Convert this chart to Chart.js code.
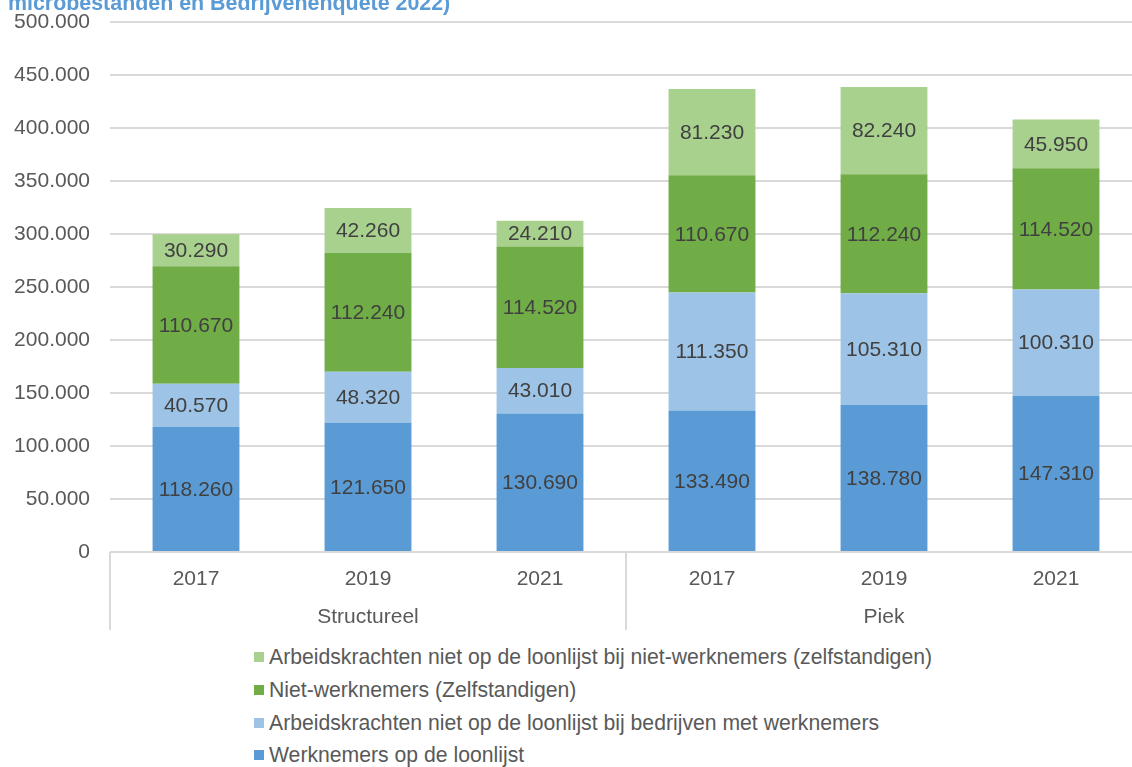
<!DOCTYPE html>
<html>
<head>
<meta charset="utf-8">
<script src="https://cdn.jsdelivr.net/npm/chart.js@4/dist/chart.umd.min.js"></script>
<style>
  html, body { margin: 0; padding: 0; background: #fff; overflow: hidden; width: 1132px; height: 767px; }
  body { position: relative; font-family: 'Liberation Sans', Arial, sans-serif; }
  #title { position: absolute; left: 8px; top: -9px; font: bold 21.4px 'Liberation Sans', Arial, sans-serif; color: #5b9bd5; white-space: nowrap; z-index: 2; }
  #wrap { position: absolute; left: 0; top: 0; width: 1145px; height: 640px; }
  #legend { position: absolute; left: 254px; top: 641px; }
  .item { display: flex; align-items: center; height: 32.7px; font-size: 21.2px; color: #595959; white-space: nowrap; }
  .sw { width: 10px; height: 10px; margin-right: 5px; }
</style>
</head>
<body>
<div id="title">microbestanden en Bedrijvenenquete 2022)</div>
<div id="wrap"><canvas id="chart"></canvas></div>
<div id="legend"></div>
<script>
'use strict';

const years = ['2017', '2019', '2021', '2017', '2019', '2021'];
const groups = ['Structureel', 'Piek'];
const werknemers = [118260, 121650, 130690, 133490, 138780, 147310];
const akBedrijven = [40570, 48320, 43010, 111350, 105310, 100310];
const nietWerknemers = [110670, 112240, 114520, 110670, 112240, 114520];
const akZelfstandigen = [30290, 42260, 24210, 81230, 82240, 45950];
const yTicks = [0, 50000, 100000, 150000, 200000, 250000, 300000, 350000, 400000, 450000, 500000];

const FONT = "'Liberation Sans', Arial, sans-serif";
const LINE = '#d9d9d9';
const fmt = (v) => v.toLocaleString('nl-NL');

const datasets = [
  { label: 'Werknemers op de loonlijst', data: werknemers, backgroundColor: '#5b9bd5' },
  { label: 'Arbeidskrachten niet op de loonlijst bij bedrijven met werknemers', data: akBedrijven, backgroundColor: '#9dc3e6' },
  { label: 'Niet-werknemers (Zelfstandigen)', data: nietWerknemers, backgroundColor: '#70ad47' },
  { label: 'Arbeidskrachten niet op de loonlijst bij niet-werknemers (zelfstandigen)', data: akZelfstandigen, backgroundColor: '#a9d18e' },
];

// value labels in the middle of every segment
const valueLabels = {
  id: 'valueLabels',
  afterDatasetsDraw(chart) {
    const ctx = chart.ctx;
    ctx.save();
    ctx.font = '21px ' + FONT;
    ctx.fillStyle = '#404040';
    ctx.textAlign = 'center';
    ctx.textBaseline = 'middle';
    chart.data.datasets.forEach((ds, i) => {
      chart.getDatasetMeta(i).data.forEach((bar, j) => {
        const p = bar.getCenterPoint();
        ctx.fillText(fmt(ds.data[j]), p.x, p.y + 1);
      });
    });
    ctx.restore();
  },
};

// second category level + frame lines
const groupAxis = {
  id: 'groupAxis',
  afterDraw(chart) {
    const x = chart.scales.x;
    const ctx = chart.ctx;
    const top = chart.chartArea.bottom;
    const bottom = top + 78;
    const per = groups.length ? years.length / groups.length : 1;
    ctx.save();
    ctx.strokeStyle = LINE;
    ctx.lineWidth = 2;
    ctx.beginPath();
    ctx.moveTo(x.left, top);
    ctx.lineTo(x.right, top);
    for (let g = 0; g <= groups.length; g++) {
      let px;
      if (g === 0) px = x.left;
      else if (g === groups.length) px = x.right;
      else px = (x.getPixelForTick(g * per - 1) + x.getPixelForTick(g * per)) / 2;
      ctx.moveTo(px, top);
      ctx.lineTo(px, bottom);
    }
    ctx.stroke();
    ctx.font = '21px ' + FONT;
    ctx.fillStyle = '#595959';
    ctx.textAlign = 'center';
    ctx.textBaseline = 'middle';
    groups.forEach((name, g) => {
      const a = x.getPixelForTick(g * per);
      const b = x.getPixelForTick(g * per + per - 1);
      ctx.fillText(name, (a + b) / 2, top + 65);
    });
    ctx.restore();
  },
};

new Chart(document.getElementById('chart'), {
  type: 'bar',
  data: { labels: years, datasets },
  options: {
    responsive: true,
    maintainAspectRatio: false,
    animation: false,
    layout: { padding: { top: 22, right: 3, bottom: 10, left: 0 } },
    plugins: { legend: { display: false }, tooltip: { enabled: false } },
    datasets: { bar: { categoryPercentage: 0.505, barPercentage: 1 } },
    scales: {
      x: {
        stacked: true,
        grid: { display: false, drawTicks: false },
        border: { display: false },
        ticks: { color: '#595959', font: { size: 21, family: FONT }, padding: 15, maxRotation: 0 },
        afterFit: (s) => { s.height = 78; s.paddingLeft = 0; s.paddingRight = 0; },
      },
      y: {
        stacked: true,
        min: 0,
        max: 500000,
        afterBuildTicks: (s) => { s.ticks = yTicks.map((v) => ({ value: v })); },
        grid: { color: LINE, lineWidth: 2, drawTicks: false },
        border: { display: false },
        ticks: { color: '#595959', font: { size: 21, family: FONT }, padding: 20, callback: (v) => fmt(v) },
        afterFit: (s) => { s.width = 110; s.paddingTop = 0; s.paddingBottom = 0; },
      },
    },
  },
  plugins: [valueLabels, groupAxis],
});

const legend = document.getElementById('legend');
datasets.slice().reverse().forEach((ds) => {
  const row = document.createElement('div');
  row.className = 'item';
  row.innerHTML = '<span class="sw" style="background:' + ds.backgroundColor + '"></span>' + ds.label;
  legend.appendChild(row);
});
</script>
</body>
</html>
